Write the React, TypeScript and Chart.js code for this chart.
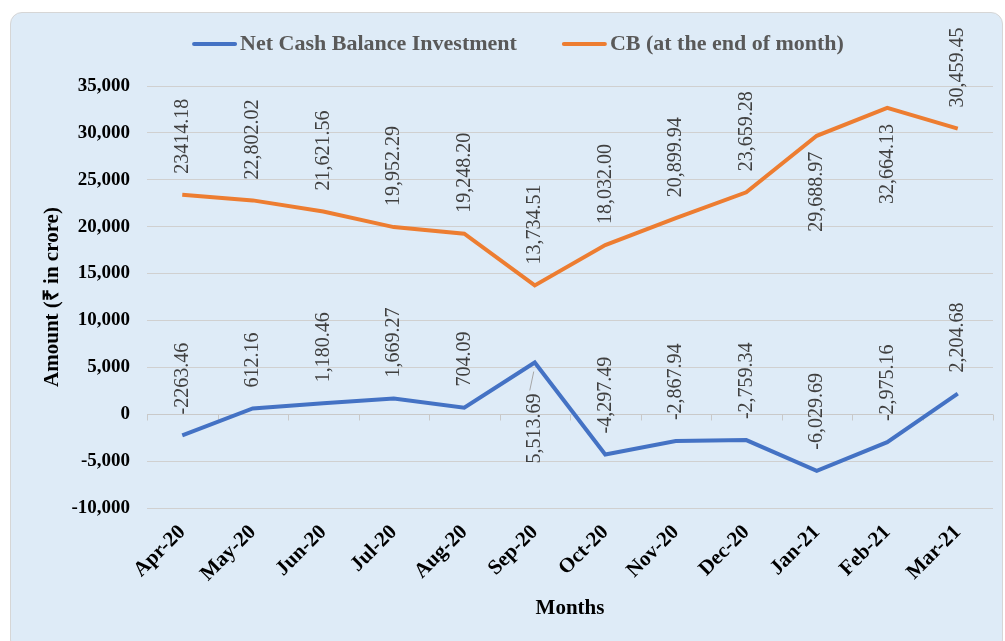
import React, { useEffect, useRef } from "react";
import { Chart, registerables } from "chart.js";

Chart.register(...registerables);

const months = ["Apr-20", "May-20", "Jun-20", "Jul-20", "Aug-20", "Sep-20", "Oct-20", "Nov-20", "Dec-20", "Jan-21", "Feb-21", "Mar-21"];
const netCashBalance = [-2263.46, 612.16, 1180.46, 1669.27, 704.09, 5513.69, -4297.49, -2867.94, -2759.34, -6029.69, -2975.16, 2204.68];
const cbEndOfMonth = [23414.18, 22802.02, 21621.56, 19952.29, 19248.2, 13734.51, 18032.0, 20899.94, 23659.28, 29688.97, 32664.13, 30459.45];
const netCashLabels = ["-2263.46", "612.16", "1,180.46", "1,669.27", "704.09", "5,513.69", "-4,297.49", "-2,867.94", "-2,759.34", "-6,029.69", "-2,975.16", "2,204.68"];
const cbLabels = ["23414.18", "22,802.02", "21,621.56", "19,952.29", "19,248.20", "13,734.51", "18,032.00", "20,899.94", "23,659.28", "29,688.97", "32,664.13", "30,459.45"];
const netCashLabelBelow = [false, false, false, false, false, true, false, false, false, false, false, false];
const cbLabelBelow = [false, false, false, false, false, false, false, false, false, true, true, false];
const seriesNames = ["Net Cash Balance Investment", "CB (at the end of month)"];
const seriesColors = ["#4472C4", "#ED7D31"];

const SERIF = "'Liberation Serif', 'Times New Roman', serif";

const labelsPlugin = {
  id: "valueLabels",
  afterDatasetsDraw(chart: any) {
    const ctx = chart.ctx;
    const sets = [
      { idx: 0, texts: netCashLabels, below: netCashLabelBelow },
      { idx: 1, texts: cbLabels, below: cbLabelBelow },
    ];
    ctx.save();
    ctx.font = `20px ${SERIF}`;
    ctx.fillStyle = "#404040";
    ctx.textBaseline = "middle";
    sets.forEach((s) => {
      const meta = chart.getDatasetMeta(s.idx);
      meta.data.forEach((pt: any, j: number) => {
        const below = s.below[j];
        const leader = below && s.idx === 0;
        ctx.save();
        if (leader) {
          ctx.strokeStyle = "#a6a6a6";
          ctx.lineWidth = 1;
          ctx.beginPath();
          ctx.moveTo(pt.x - 1, pt.y + 9);
          ctx.lineTo(pt.x - 5, pt.y + 28);
          ctx.stroke();
        }
        ctx.translate(pt.x, pt.y);
        ctx.rotate(-Math.PI / 2);
        if (below) {
          ctx.textAlign = "right";
          ctx.fillText(s.texts[j], leader ? -31 : -16, 0);
        } else {
          ctx.textAlign = "left";
          ctx.fillText(s.texts[j], 21, 0);
        }
        ctx.restore();
      });
    });
    ctx.restore();
  },
};

const zeroLinePlugin = {
  id: "zeroLine",
  beforeDatasetsDraw(chart: any) {
    const ctx = chart.ctx;
    const { left, right } = chart.chartArea;
    const y0 = Math.round(chart.scales.y.getPixelForValue(0)) + 0.5;
    const n = months.length;
    ctx.save();
    ctx.strokeStyle = "#c9c9c9";
    ctx.lineWidth = 1;
    ctx.beginPath();
    ctx.moveTo(left, y0);
    ctx.lineTo(right, y0);
    for (let k = 0; k <= n; k++) {
      const x = Math.round(left + (k * (right - left)) / n) + 0.5;
      ctx.moveTo(x, y0);
      ctx.lineTo(x, y0 + 6);
    }
    ctx.stroke();
    ctx.restore();
  },
};

const legendPlugin = {
  id: "customLegend",
  afterDraw(chart: any) {
    const ctx = chart.ctx;
    ctx.save();
    ctx.font = `bold 22px ${SERIF}`;
    const lineW = 45;
    const gapLine = 3;
    const gapItem = 45;
    const widths = seriesNames.map((t) => ctx.measureText(t).width);
    const total = widths.reduce((a, w) => a + lineW + gapLine + w, 0) + gapItem * (seriesNames.length - 1);
    let x = 508 - total / 2;
    const y = 32;
    seriesNames.forEach((name, i) => {
      ctx.strokeStyle = seriesColors[i];
      ctx.lineWidth = 4;
      ctx.lineCap = "round";
      ctx.beginPath();
      ctx.moveTo(x + 2, y);
      ctx.lineTo(x + lineW - 2, y);
      ctx.stroke();
      ctx.fillStyle = "#595959";
      ctx.textAlign = "left";
      ctx.textBaseline = "middle";
      ctx.fillText(name, x + lineW + gapLine, y);
      x += lineW + gapLine + widths[i] + gapItem;
    });
    ctx.restore();
  },
};

export default function App() {
  const canvasRef = useRef<HTMLCanvasElement | null>(null);

  useEffect(() => {
    const canvas = canvasRef.current;
    if (!canvas) return;
    const chart = new Chart(canvas, {
      type: "line",
      data: {
        labels: months,
        datasets: [
          {
            label: seriesNames[0],
            data: netCashBalance,
            borderColor: seriesColors[0],
            backgroundColor: seriesColors[0],
            borderWidth: 4,
            pointRadius: 0,
            tension: 0,
          },
          {
            label: seriesNames[1],
            data: cbEndOfMonth,
            borderColor: seriesColors[1],
            backgroundColor: seriesColors[1],
            borderWidth: 4,
            pointRadius: 0,
            tension: 0,
          },
        ],
      },
      options: {
        responsive: false,
        animation: false,
        devicePixelRatio: 1,
        layout: { padding: { top: 74, right: 10, left: 0, bottom: 0 } },
        plugins: {
          legend: { display: false },
          tooltip: { enabled: false },
        },
        scales: {
          x: {
            offset: true,
            grid: { display: false, drawTicks: false },
            border: { display: false },
            ticks: {
              minRotation: 45,
              maxRotation: 45,
              padding: 12,
              color: "#000000",
              font: { family: SERIF, size: 21, weight: "bold" },
            },
            title: {
              display: true,
              text: "Months",
              color: "#000000",
              font: { family: SERIF, size: 21, weight: "bold" },
              padding: { top: 0, bottom: 20 },
            },
            afterFit: (scale: any) => {
              scale.height = 133;
            },
          },
          y: {
            min: -10000,
            max: 35000,
            grid: { color: "#d0d0d0", lineWidth: 1, drawTicks: false },
            border: { display: false },
            ticks: {
              stepSize: 5000,
              padding: 17,
              color: "#000000",
              font: { family: SERIF, size: 19, weight: "bold" },
              callback: (v: any) => Number(v).toLocaleString("en-US"),
            },
            title: {
              display: true,
              text: "Amount (₹ in crore)",
              color: "#000000",
              font: { family: SERIF, size: 21, weight: "bold" },
              padding: { top: 30, bottom: 0 },
            },
            afterFit: (scale: any) => {
              scale.width = 137;
            },
          },
        },
      } as any,
      plugins: [zeroLinePlugin, labelsPlugin, legendPlugin],
    });
    return () => chart.destroy();
  }, []);

  return (
    <div style={{ position: "fixed", left: 0, top: 0, width: 1005, height: 641, background: "#ffffff", overflow: "hidden" }}>
      <div
        style={{
          position: "absolute",
          left: 10,
          top: 12,
          width: 993,
          height: 640,
          background: "#DEEBF7",
          border: "1px solid #d6d6d6",
          borderRadius: 12,
          boxSizing: "border-box",
        }}
      />
      <canvas
        ref={canvasRef}
        width={993}
        height={629}
        style={{ position: "absolute", left: 10, top: 12, width: 993, height: 629 }}
      />
    </div>
  );
}
